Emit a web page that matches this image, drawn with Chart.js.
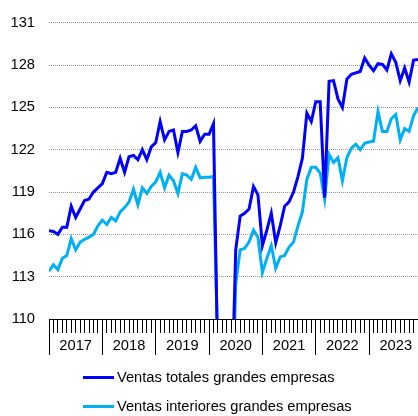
<!DOCTYPE html>
<html><head><meta charset="utf-8">
<script src="https://cdn.jsdelivr.net/npm/chart.js@4/dist/chart.umd.min.js"></script>
<style>
html,body{margin:0;padding:0;background:#fff;}
#wrap{position:relative;width:418px;height:416px;overflow:hidden;}
canvas{position:absolute;left:0;top:0;}
.lg{position:absolute;left:83px;height:20px;display:flex;align-items:center;font:14.67px "Liberation Sans",Arial,sans-serif;color:#000;white-space:nowrap;}
.lg .sw{display:inline-block;width:31px;height:3px;margin-right:3px;}
</style></head>
<body>
<div id="wrap"><canvas id="c" width="418" height="416" style="width:418px;height:416px"></canvas><div id="legend"></div></div>
<script>
const years = ['2017','2018','2019','2020','2021','2022','2023'];
const seriesNames = ['Ventas totales grandes empresas','Ventas interiores grandes empresas'];
const yMin = 110, yMax = 131, yStep = 3;

const totales = [
  116.25,116.2,116.0,116.5,116.5,118.0,117.2,117.8,118.4,118.5,119.0,119.3,
  119.6,120.4,120.3,120.4,121.4,120.4,121.5,121.6,121.3,122.0,121.3,122.2,
  122.5,124.0,122.7,123.3,123.4,121.8,123.3,123.3,123.4,123.7,122.6,123.1,
  123.1,123.85,106.0,90.0,96.0,103.0,114.9,117.3,117.5,117.8,119.4,118.8,
  115.2,116.3,117.5,115.4,116.6,118.0,118.3,119.0,120.1,121.4,124.6,124.0,
  125.4,125.4,118.6,126.85,126.9,125.6,125.0,127.0,127.35,127.45,127.55,128.5,
  128.0,127.6,128.1,128.05,127.65,128.8,128.2,126.9,127.8,126.8,128.35,128.4
];
const interiores = [
  113.4,113.85,113.5,114.3,114.5,115.7,114.9,115.45,115.65,115.8,116.0,116.6,
  117.0,116.7,117.2,116.95,117.6,117.9,118.3,119.2,118.1,119.3,118.9,119.4,
  119.7,120.4,119.3,120.2,119.8,118.9,120.3,120.2,119.9,120.75,120.0,120.05,
  120.05,120.1,107.5,91.0,97.0,101.0,112.5,114.9,115.0,115.45,116.3,115.8,
  113.3,114.3,115.2,113.6,114.4,114.5,115.1,115.45,116.6,117.6,119.9,120.75,
  120.75,120.35,118.5,121.67,121.1,121.44,119.8,121.44,122.1,122.4,122.0,122.45,
  122.55,122.6,124.7,123.3,123.3,124.2,124.5,122.7,123.5,123.3,124.4,125.0
];

const months = [];
years.forEach(y => { for (let m = 1; m <= 12; m++) months.push(y + '-' + String(m).padStart(2,'0')); });

const FONT = {family: '"Liberation Sans", Arial, sans-serif', size: 14.67};
Chart.defaults.font.family = FONT.family;
Chart.defaults.font.size = FONT.size;
Chart.defaults.color = '#000';

const colors = ['#0000FF', '#00B0F0'];

const chart = new Chart(document.getElementById('c'), {
  type: 'line',
  data: {
    labels: months,
    datasets: [
      {label: seriesNames[0], data: totales, borderColor: colors[0], backgroundColor: colors[0], borderWidth: 3, pointRadius: 0, tension: 0, clip: 0},
      {label: seriesNames[1], data: interiores, borderColor: colors[1], backgroundColor: colors[1], borderWidth: 3, pointRadius: 0, tension: 0, clip: 0}
    ]
  },
  options: {
    responsive: false,
    devicePixelRatio: 1,
    animation: false,
    layout: {padding: {top: 15, right: 0, bottom: 57, left: 0}},
    plugins: {legend: {display: false}, tooltip: {enabled: false}},
    scales: {
      x: {
        type: 'category',
        offset: false,
        grid: {
          drawOnChartArea: false, drawTicks: true, tickLength: 36,
          tickColor: '#000', tickWidth: 1,
          tickBorderDash: ctx => (ctx.index % 12 === 0 ? [] : [13, 100])
        },
        border: {display: true, color: '#000', width: 1},
        ticks: {
          autoSkip: false, maxRotation: 0, minRotation: 0, padding: -18, color: '#000', font: FONT,
          callback: (v, i) => (i % 12 === 6 ? years[Math.floor(i / 12)] : '')
        },
        afterFit: s => { s.height = 40; }
      },
      y: {
        min: yMin, max: yMax,
        ticks: {stepSize: yStep, padding: 14, color: '#000', font: FONT},
        grid: {
          drawTicks: false,
          color: ctx => (ctx.tick && ctx.tick.value === yMin ? 'rgba(0,0,0,0)' : '#9a9a9a'),
          lineWidth: 1
        },
        border: {display: false, dash: [1, 1]},
        afterFit: s => { s.width = 49; }
      }
    }
  }
});

const lg = document.getElementById('legend');
const rowTops = [367, 396];
chart.data.datasets.forEach((ds, k) => {
  const row = document.createElement('div');
  row.className = 'lg';
  row.style.top = rowTops[k] + 'px';
  const sw = document.createElement('span');
  sw.className = 'sw';
  sw.style.background = ds.borderColor;
  const tx = document.createElement('span');
  tx.textContent = ds.label;
  row.appendChild(sw); row.appendChild(tx);
  lg.appendChild(row);
});
</script>
</body></html>
